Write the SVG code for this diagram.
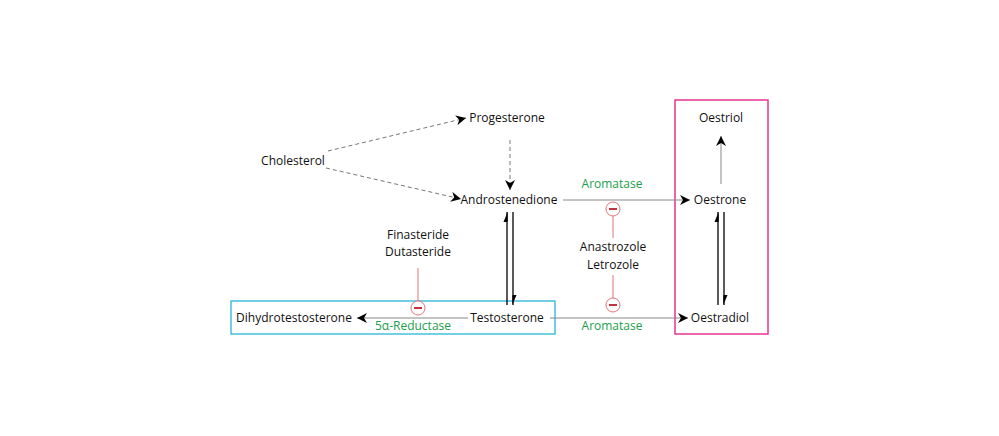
<svg xmlns="http://www.w3.org/2000/svg" width="999" height="436" viewBox="0 0 999 436">
<defs>
<marker id="ah" viewBox="0 0 10 10" refX="10" refY="5" markerWidth="10" markerHeight="10" markerUnits="userSpaceOnUse" orient="auto"><path d="M0,0 L10,5 L0,10 L3,5 Z" fill="#000"/></marker>
<marker id="hh" viewBox="0 0 10 10" refX="10" refY="5" markerWidth="10" markerHeight="10" markerUnits="userSpaceOnUse" orient="auto"><path d="M10,5.6 L0,1.5 L0,5.6 Z" fill="#000"/></marker>
</defs>
<style>
text{font-family:"Open Sans","Liberation Sans",sans-serif;font-size:12px;fill:#111;text-anchor:middle}
.g{fill:#1a9e4b}
.d{stroke:#777;stroke-width:1;stroke-dasharray:4 3;fill:none}
.l{stroke:#888;stroke-width:1;fill:none}
.b{stroke:#000;stroke-width:1.3;fill:none}
.r{stroke:#e0757a;stroke-width:1;fill:none}
.inh circle{fill:#fff;stroke:#e0757a;stroke-width:1}
.inh line{stroke:#c8323c;stroke-width:2}
</style>
<rect width="999" height="436" fill="#fff"/>
<rect x="231" y="301" width="324" height="33" fill="none" stroke="#29b5d6" stroke-width="1.3"/>
<rect x="675" y="100" width="93" height="234" fill="none" stroke="#e8338f" stroke-width="1.5"/>
<g id="connectors">
<line class="d" x1="328" y1="151" x2="466" y2="118" marker-end="url(#ah)"/>
<line class="d" x1="326" y1="168" x2="461" y2="199" marker-end="url(#ah)"/>
<line class="d" x1="510" y1="140" x2="510" y2="190" marker-end="url(#ah)"/>
<line class="b" x1="507" y1="305" x2="507" y2="212" marker-end="url(#hh)"/>
<line class="b" x1="513" y1="212" x2="513" y2="305" marker-end="url(#hh)"/>
<line class="l" x1="563" y1="200" x2="690" y2="200" marker-end="url(#ah)"/>
<line class="l" x1="550" y1="318" x2="688" y2="318" marker-end="url(#ah)"/>
<line class="l" x1="468" y1="318" x2="357" y2="318" marker-end="url(#ah)"/>
<line class="l" x1="721" y1="184" x2="721" y2="136" marker-end="url(#ah)"/>
<line class="b" x1="718" y1="305" x2="718" y2="212" marker-end="url(#hh)"/>
<line class="b" x1="724" y1="212" x2="724" y2="305" marker-end="url(#hh)"/>
<line class="r" x1="418" y1="268" x2="418" y2="301"/>
<line class="r" x1="613" y1="216" x2="613" y2="238"/>
<line class="r" x1="613" y1="275" x2="613" y2="298"/>
</g>
<g id="inh1" class="inh"><circle cx="418" cy="308" r="7"/><line x1="414" y1="308" x2="422" y2="308"/></g>
<g id="inh2" class="inh"><circle cx="613" cy="209" r="7"/><line x1="609" y1="209" x2="617" y2="209"/></g>
<g id="inh3" class="inh"><circle cx="613" cy="305" r="7"/><line x1="609" y1="305" x2="617" y2="305"/></g>
<g id="cholesterol"><text x="293" y="165">Cholesterol</text></g>
<g id="progesterone"><text x="507" y="122">Progesterone</text></g>
<g id="androstenedione"><text x="509" y="204">Androstenedione</text></g>
<g id="testosterone"><text x="507" y="322">Testosterone</text></g>
<g id="dht"><text x="294" y="322">Dihydrotestosterone</text></g>
<g id="oestriol"><text x="721" y="122">Oestriol</text></g>
<g id="oestrone"><text x="720" y="204">Oestrone</text></g>
<g id="oestradiol"><text x="720" y="322">Oestradiol</text></g>
<g id="finasteride"><text x="418" y="239">Finasteride</text><text x="418" y="256">Dutasteride</text></g>
<g id="anastrozole"><text x="613" y="251">Anastrozole</text><text x="613" y="269">Letrozole</text></g>
<text class="g" x="413" y="330">5α-Reductase</text>
<text class="g" x="612" y="188">Aromatase</text>
<text class="g" x="612" y="330">Aromatase</text>
</svg>
